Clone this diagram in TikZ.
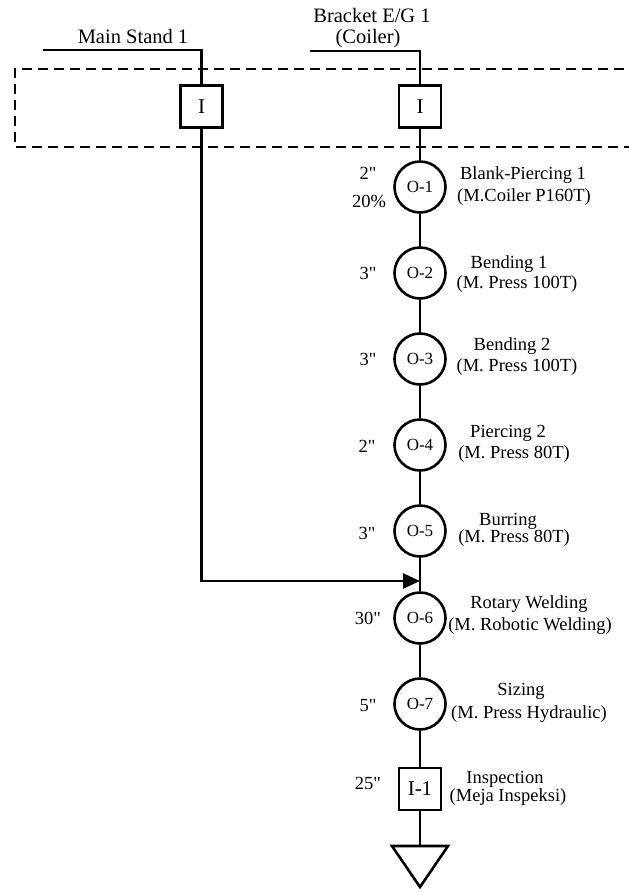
\documentclass[tikz,border=0pt]{standalone}
\usepackage{fontspec}
\setmainfont{Liberation Serif}[Ligatures=TeXOff]
\usetikzlibrary{arrows.meta}
\begin{document}
\begin{tikzpicture}[x=1pt,y=-1pt,
  flow/.style={line width=2.6pt,line join=miter},
  opcircle/.style={circle,draw,line width=2.6pt,minimum size=51pt,inner sep=0pt,
    font=\fontsize{17}{18}\selectfont},
  inspbox/.style={rectangle,draw,line width=2.6pt,minimum size=42pt,inner sep=0pt,
    font=\fontsize{21}{22}\selectfont},
  lbl/.style={anchor=base,inner sep=0pt,font=\fontsize{18.5}{20}\selectfont},
  toplbl/.style={anchor=base,inner sep=0pt,font=\fontsize{20.5}{22}\selectfont},
  area/.style={line width=1.6pt,dash pattern=on 10pt off 6pt}
]
\useasboundingbox (0,0) rectangle (629,892);

% storage area (open to the right)
\draw[area] (640,69) -- (15,69) -- (15,147) -- (640,147);

% incoming materials
\node[toplbl] (msname) at (133,43) {Main Stand 1};
\node[toplbl] (bkname) at (372,22) {Bracket E/G 1};
\node[toplbl] (bkcoil) at (368,43) {(Coiler)};
\coordinate (msstart) at (43,50);
\coordinate (bkstart) at (310,51);

\node[inspbox] (ms) at (201.5,106.5) {I};
\node[inspbox] (bk) at (420,106.5) {I};

% operations
\node[opcircle] (o1) at (420,187) {O-1};
\node[opcircle] (o2) at (420,273) {O-2};
\node[opcircle] (o3) at (420,359) {O-3};
\node[opcircle] (o4) at (420,445) {O-4};
\node[opcircle] (o5) at (420,531) {O-5};
\node[opcircle] (o6) at (420,618) {O-6};
\node[opcircle] (o7) at (420,704) {O-7};
\node[inspbox] (i1) at (420,789) {I-1};

% storage triangle
\coordinate (stl) at (392,846);
\coordinate (str) at (448,846);
\coordinate (stt) at (420,887);
\coordinate (st) at (420,846);
\coordinate (join) at (420,581);

% connectors
\draw[flow] (msstart) -| (ms.north);
\draw[flow] (bkstart) -| (bk.north);
\draw[flow,-{Triangle[length=17pt,width=15pt]}] (ms.south) |- (join);
\draw[flow] (bk.south) -- (o1.north);
\draw[flow] (o1) -- (o2);
\draw[flow] (o2) -- (o3);
\draw[flow] (o3) -- (o4);
\draw[flow] (o4) -- (o5);
\draw[flow] (o5) -- (o6);
\draw[flow] (o6) -- (o7);
\draw[flow] (o7) -- (i1);
\draw[flow] (i1) -- (st);
\draw[flow] (stl) -- (str) -- (stt) -- cycle;

% times
\node[lbl] (t1) at (368,179) {2"};
\node[lbl] (t1b) at (369,207) {20\%};
\node[lbl] (t2) at (368,279) {3"};
\node[lbl] (t3) at (368,365) {3"};
\node[lbl] (t4) at (367,452) {2"};
\node[lbl] (t5) at (367,539) {3"};
\node[lbl] (t6) at (368,624) {30"};
\node[lbl] (t7) at (368,711) {5"};
\node[lbl] (t8) at (368,789) {25"};

% descriptions
\node[lbl] (d1a) at (523,179) {Blank-Piercing 1};
\node[lbl] (d1b) at (524,201) {(M.Coiler P160T)};
\node[lbl] (d2a) at (509,268) {Bending 1};
\node[lbl] (d2b) at (517,288) {(M. Press 100T)};
\node[lbl] (d3a) at (512,350) {Bending 2};
\node[lbl] (d3b) at (517,371) {(M. Press 100T)};
\node[lbl] (d4a) at (508,437) {Piercing 2};
\node[lbl] (d4b) at (514,458) {(M. Press 80T)};
\node[lbl] (d5a) at (508,525) {Burring};
\node[lbl] (d5b) at (514,542) {(M. Press 80T)};
\node[lbl] (d6a) at (529,608) {Rotary Welding};
\node[lbl] (d6b) at (530,630) {(M. Robotic Welding)};
\node[lbl] (d7a) at (521,695) {Sizing};
\node[lbl] (d7b) at (529,718) {(M. Press Hydraulic)};
\node[lbl] (d8a) at (505,783) {Inspection};
\node[lbl] (d8b) at (508,801) {(Meja Inspeksi)};
\end{tikzpicture}
\end{document}
